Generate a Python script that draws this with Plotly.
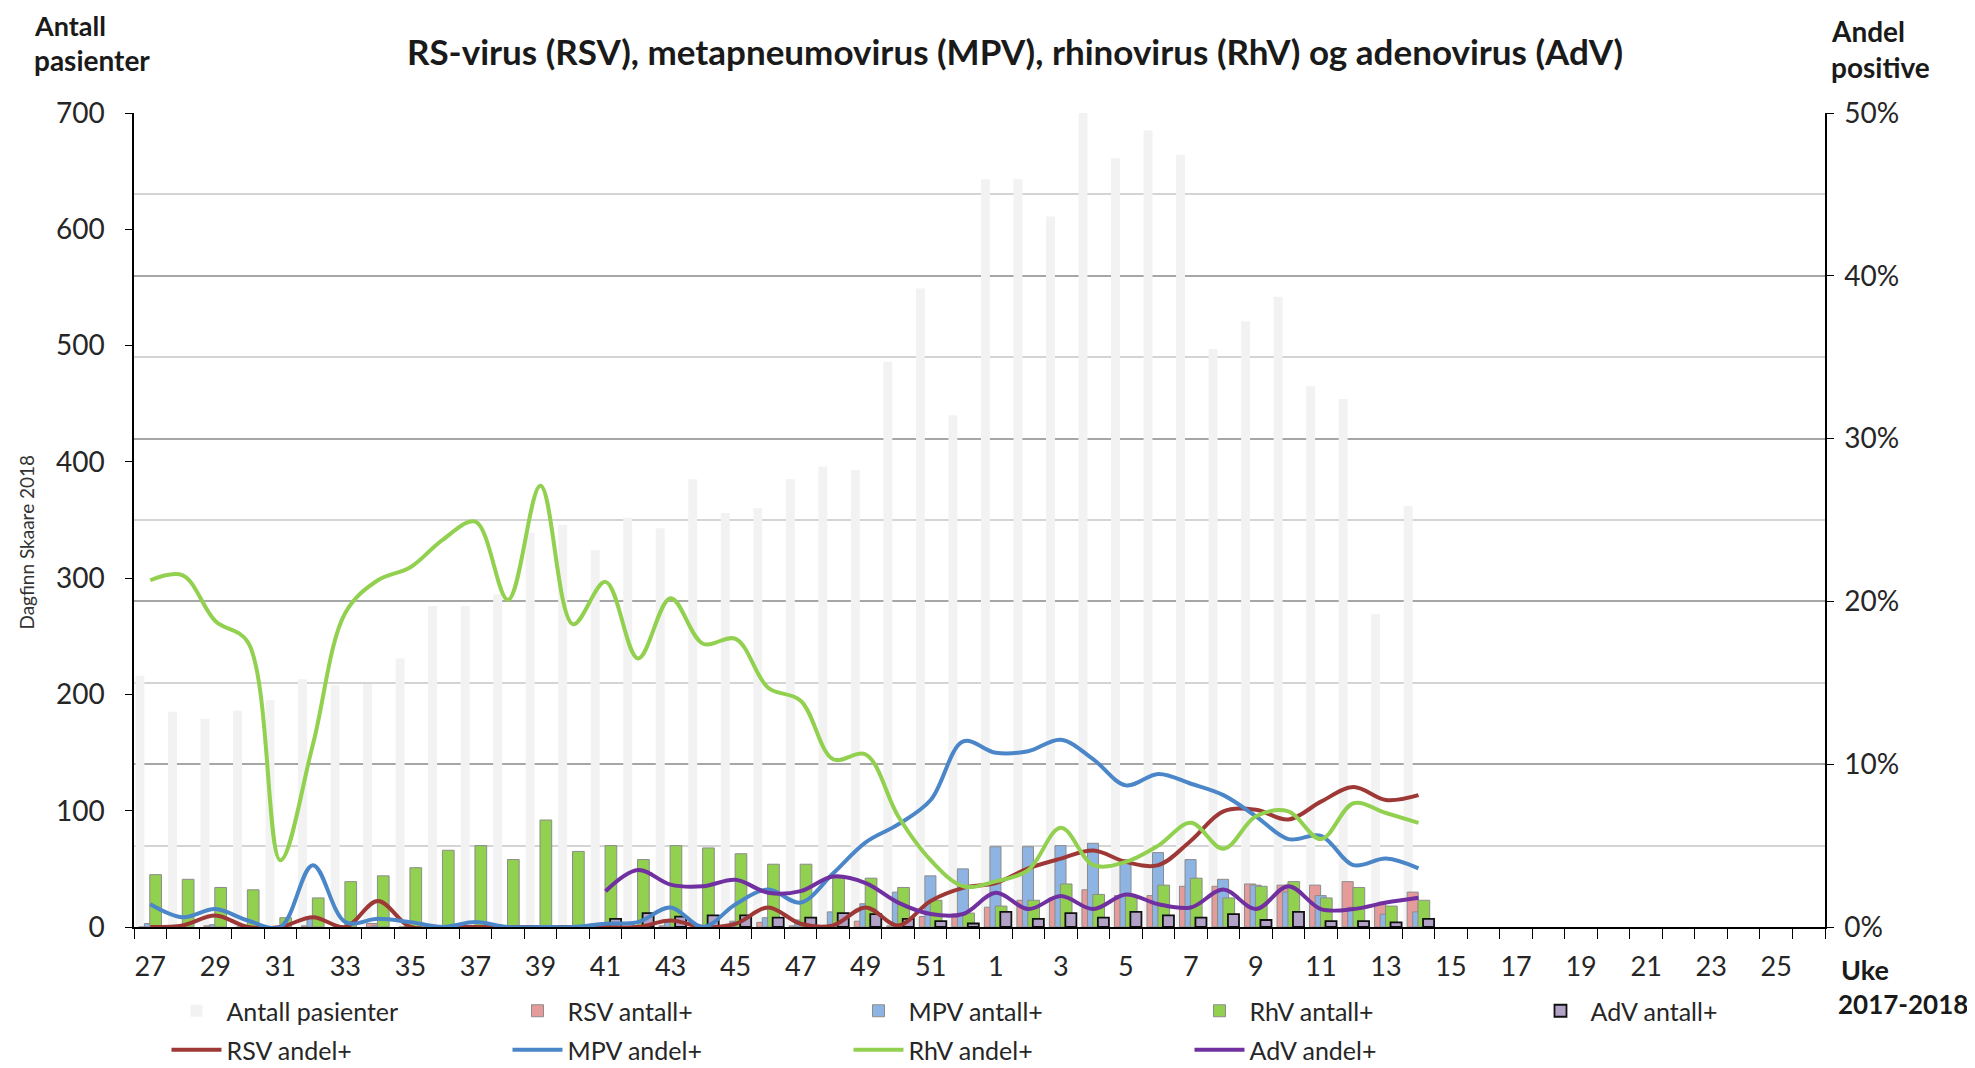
import plotly.graph_objects as go

# ---------------- data ----------------
weeks = [str(w) for w in range(27, 53)] + [str(w) for w in range(1, 27)]

patients = [216, 185, 179, 186, 195, 213, 208, 209, 231, 276, 276, 286, 339, 346, 324, 352, 343, 385, 356, 360,
            385, 396, 393, 486, 549, 440, 643, 643, 611, 700, 661, 685, 664, 497, 521, 542, 465, 454, 269, 362]
rsv_n = [0, 0, 1, 0, 0, 1, 0, 3, 0, 0, 0, 0, 0, 0, 0, 0, 1, 0, 1, 4,
         1, 1, 5, 1, 9, 11, 17, 23, 25, 32, 27, 27, 35, 35, 37, 36, 36, 39, 20, 30]
mpv_n = [3, 1, 2, 1, 0, 8, 1, 1, 1, 0, 1, 0, 0, 0, 1, 1, 4, 0, 5, 8,
         6, 13, 20, 30, 44, 50, 69, 69, 70, 72, 58, 64, 58, 41, 36, 30, 27, 17, 11, 13]
rhv_n = [45, 41, 34, 32, 8, 25, 39, 44, 51, 66, 70, 58, 92, 65, 70, 58, 70, 68, 63, 54,
         54, 42, 42, 34, 23, 12, 18, 23, 37, 28, 27, 36, 42, 25, 35, 39, 25, 34, 18, 23]
adv_n = [None] * 14 + [7, 12, 9, 10, 10, 8, 8, 12, 11, 7, 5, 3, 13, 7, 12, 8, 13, 10, 8, 11, 6, 13, 5, 5, 4, 7]

rsv_pct = [0, 0.1, 0.7, 0, 0, 0.6, 0, 1.6, 0, 0, 0, 0, 0, 0, 0, 0, 0.4, 0, 0.2, 1.2,
           0.2, 0.1, 1.2, 0.1, 1.6, 2.4, 2.7, 3.6, 4.2, 4.7, 4.0, 3.8, 5.3, 7.1, 7.2, 6.6, 7.7, 8.6, 7.8, 8.1]
mpv_pct = [1.4, 0.6, 1.1, 0.4, 0.0, 3.8, 0.3, 0.5, 0.3, 0.0, 0.3, 0.0, 0.0, 0.0, 0.2, 0.3, 1.2, 0.0, 1.4, 2.3,
           1.5, 3.3, 5.2, 6.3, 7.8, 11.4, 10.7, 10.8, 11.5, 10.3, 8.7, 9.4, 8.8, 8.1, 6.8, 5.4, 5.6, 3.8, 4.2, 3.6]
rhv_pct = [21.3, 21.6, 18.8, 17.5, 4.1, 11.2, 19.3, 21.3, 22.1, 23.8, 24.9, 20.1, 27.1, 18.6, 21.2, 16.5, 20.2, 17.4, 17.7, 14.7,
           13.9, 10.3, 10.6, 6.8, 4.1, 2.5, 2.8, 3.5, 6.1, 3.8, 4.0, 5.0, 6.4, 4.8, 6.8, 7.1, 5.4, 7.6, 7.0, 6.4]
adv_pct = [None] * 14 + [2.2, 3.5, 2.6, 2.5, 2.9, 2.1, 2.2, 3.1, 2.7, 1.5, 0.8, 0.8, 2.1, 1.1, 1.9, 1.1,
                         2.0, 1.4, 1.2, 2.3, 1.1, 2.5, 1.1, 1.1, 1.5, 1.8]

xpos = list(range(len(patients)))          # positions of the weeks that have data
tick_pos = list(range(0, len(weeks), 2))
tick_txt = weeks[::2]

FONT = "Lato"
TXT = "#262626"

fig = go.Figure()

def bar(name, y, color, offset, width, lcolor, lwidth, legendwidth=None):
    fig.add_trace(go.Bar(
        x=xpos, y=y, name=name, offset=offset, width=width,
        marker=dict(color=color, line=dict(color=lcolor, width=lwidth)),
        legend="legend", legendwidth=legendwidth, hoverinfo="skip"))

bar("Antall pasienter", patients, "#F2F2F2", -0.455, 0.275, "#F2F2F2", 0)
bar("RSV antall+", rsv_n, "#E59B9A", -0.35, 0.34, "#8C8C8C", 1)
bar("MPV antall+", mpv_n, "#8DB4E2", -0.18, 0.34, "#8C8C8C", 1)
bar("RhV antall+", rhv_n, "#92D050", -0.015, 0.36, "#8C8C8C", 1)
bar("AdV antall+", adv_n, "#B3A2C7", 0.14, 0.34, "#111111", 1.8, legendwidth=150)

def line(name, y, color):
    fig.add_trace(go.Scatter(
        x=xpos, y=y, name=name, yaxis="y2", mode="lines",
        line=dict(color=color, width=4, shape="spline", smoothing=1.0),
        legend="legend2", hoverinfo="skip"))

line("RSV andel+", rsv_pct, "#9E3836")
line("MPV andel+", mpv_pct, "#4A86C8")
line("RhV andel+", rhv_pct, "#92D050")
line("AdV andel+", adv_pct, "#7030A0")

# page-pixel layout targets (the page adds an 8 px body margin)
OFF = 8
W, H = 1975 - OFF, 1068 - OFF
L = 133.5 - OFF
T = 113 - OFF
PW = 1825 - 133.5
PH = 927 - 113
R = W - L - PW
B = H - T - PH

def px(x):   # page x -> paper
    return (x - OFF - L) / PW

def py(y):   # page y -> paper
    return (T + PH - (y - OFF)) / PH

legend_common = dict(orientation="h", xanchor="left", yanchor="middle",
                     itemwidth=50, entrywidth=276, entrywidthmode="pixels",
                     font=dict(family=FONT, size=25, color=TXT),
                     bgcolor="rgba(0,0,0,0)", tracegroupgap=0)

fig.update_layout(
    width=W, height=H,
    margin=dict(l=L, r=R, t=T, b=B, autoexpand=False),
    paper_bgcolor="white", plot_bgcolor="white",
    barmode="overlay",
    font=dict(family=FONT, size=26, color=TXT),
    title=dict(text="RS-virus (RSV), metapneumovirus (MPV), rhinovirus (RhV) og adenovirus (AdV)",
               x=(1015 - OFF) / W, xanchor="center", y=1 - (53 - OFF) / H, yanchor="middle",
               font=dict(family=FONT, size=35, color="#1a1a1a", weight=700)),
    xaxis=dict(range=[-0.5, len(weeks) - 0.5], tickmode="array", tickvals=tick_pos, ticktext=tick_txt,
               ticks="", showgrid=False, zeroline=False,
               showline=True, linecolor="#000000", linewidth=1.5,
               tickfont=dict(family=FONT, size=27, color=TXT), ticklabelstandoff=15,
               minor=dict(tickmode="array", tickvals=[i - 0.5 for i in range(len(weeks) + 1)],
                          ticks="outside", ticklen=10, tickcolor="#000000", tickwidth=1.3, showgrid=False)),
    yaxis=dict(range=[0, 700], dtick=100, showgrid=False, zeroline=False,
               showline=True, linecolor="#000000", linewidth=1.5,
               ticks="outside", ticklen=7, tickcolor="#000000", tickwidth=1.3,
               tickfont=dict(family=FONT, size=28, color=TXT), ticklabelstandoff=15),
    yaxis2=dict(range=[0, 50], dtick=10, ticksuffix="%", overlaying="y", side="right",
                showgrid=True, gridcolor="#A6A6A6", gridwidth=1.6, zeroline=False,
                showline=True, linecolor="#000000", linewidth=1.5,
                ticks="outside", ticklen=7, tickcolor="#000000", tickwidth=1.3,
                tickfont=dict(family=FONT, size=28, color=TXT), ticklabelstandoff=5,
                minor=dict(dtick=5, showgrid=True, gridcolor="#D4D4D4", gridwidth=1.6, ticks="")),
    legend=dict(x=px(158 + OFF), y=py(1011), **legend_common),
    legend2=dict(x=px(158 + OFF), y=py(1050), **legend_common),
    showlegend=True,
)

def note(text, x, y, size, bold=True, xanchor="left", angle=0, color="#1a1a1a"):
    fig.add_annotation(text=text, x=px(x), y=py(y), xref="paper", yref="paper",
                       xanchor=xanchor, yanchor="middle", showarrow=False, textangle=angle,
                       font=dict(family=FONT, size=size, color=color, weight=700 if bold else 400))

note("Antall", 31, 26, 27)
note("pasienter", 31, 60, 28)
note("Andel", 1829, 31, 28)
note("positive", 1829, 67, 28)
note("Uke", 1839, 969, 27)
note("2017-2018", 1836, 1004, 26)
note("Dagfinn Skaare 2018", 25, 542, 19, bold=False, xanchor="center", angle=-90, color="#333333")

fig.write_html("out.html")
